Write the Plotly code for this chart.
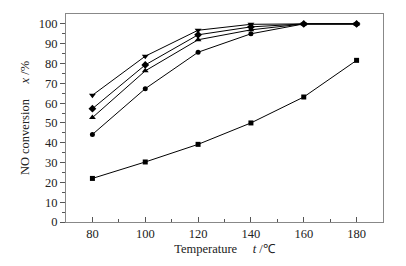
import plotly.graph_objects as go

temps = [80, 100, 120, 140, 160, 180]
s_square = [22.0, 30.3, 39.2, 50.0, 63.1, 81.6]
s_circle = [44.2, 67.3, 85.7, 95.0, 100.0, 100.0]
s_tri_up = [52.7, 76.3, 92.0, 97.0, 100.0, 100.0]
s_diamond = [57.2, 79.3, 94.5, 98.5, 100.0, 100.0]
s_tri_down = [64.0, 83.7, 96.8, 99.8, 100.0, 100.0]

series = [
    (s_square, "square", 5),
    (s_circle, "circle", 5),
    (s_tri_up, "triangle-up", 6),
    (s_diamond, "diamond", 6),
    (s_tri_down, "triangle-down", 6),
]

fig = go.Figure()
for vals, sym, sz in series:
    fig.add_trace(go.Scatter(x=temps, y=vals, mode="lines+markers",
                             line=dict(color="black", width=1),
                             marker=dict(symbol=sym, size=sz, color="black"),
                             showlegend=False))

font = dict(family="Liberation Serif, Times New Roman, serif", size=12.5, color="#222")
fig.update_layout(
    width=398, height=258,
    margin=dict(l=58, r=23, t=6, b=44),
    paper_bgcolor="white", plot_bgcolor="white",
    font=font,
    xaxis=dict(range=[70, 190], tickvals=temps, ticks="inside", ticklen=5,
               tickcolor="#555", showgrid=False, zeroline=False,
               showline=True, linecolor="#888", linewidth=1, mirror=True,
               minor=dict(tickvals=[90, 110, 130, 150, 170], ticks="inside", ticklen=3, tickcolor="#555"),
               title=dict(text="Temperature     <i>t</i> /℃", standoff=4, font=dict(size=12.5))),
    yaxis=dict(range=[0, 105], tickvals=list(range(0, 101, 10)), ticks="outside", ticklen=5,
               tickcolor="#555", showgrid=False, zeroline=False,
               showline=True, linecolor="#888", linewidth=1, mirror=True,
               minor=dict(tickvals=list(range(5, 105, 10)), ticks="outside", ticklen=3, tickcolor="#555"),
               title=dict(text="NO conversion     <i>x</i> /%", standoff=6, font=dict(size=12.5))),
)
fig.write_html("out.html")
